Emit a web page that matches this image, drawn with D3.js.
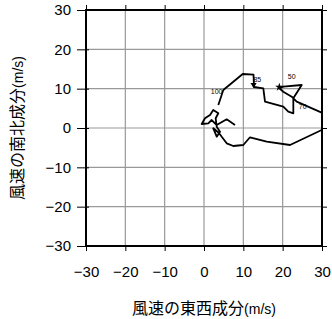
<!DOCTYPE html>
<html>
<head>
<meta charset="utf-8">
<script src="https://cdn.jsdelivr.net/npm/d3@7"></script>
<style>
  body { margin: 0; background: #fff; }
  text { font-family: "Liberation Sans", Arial, sans-serif; }
  .cjk { font-family: "Noto Sans CJK JP", sans-serif; }
</style>
</head>
<body>
<svg id="chart" width="332" height="319"></svg>
<script>
// ホドグラフ (u: 東西成分, v: 南北成分) m/s
const uVals = [3.64, 4.91, 9.84, 12.59, 12.71, 15.08, 15.51, 20.16, 21.43, 22.71, 22.71, 24.84,
  20.16, 19.15, 20.16, 22.30, 23.57, 29.93, 33.3, 33.3, 29.93, 21.87, 15.94, 11.70, 9.99, 7.45,
  5.77, 4.50, 3.81, 2.36, 3.23, 4.07, 3.23, 2.97, 3.64, 2.36, 1.53, 0.25, -0.58, 1.09, 1.96,
  3.23, 5.77, 7.88];
const vVals = [5.85, 9.66, 13.73, 13.55, 10.42, 10.09, 6.69, 5.42, 4.14, 3.74, 7.55, 10.93,
  10.50, 10.09, 9.23, 7.96, 6.69, 3.89, 2.5, 0.5, -0.51, -4.32, -3.48, -2.36, -4.32, -4.58,
  -3.89, -2.21, -1.27, -0.08, -2.21, -0.94, 0.33, 2.47, 3.74, 4.58, 3.31, 2.47, 1.02, 1.19,
  2.03, 0.76, 2.21, 0.76];

// 高度ラベル
const labelText = ["100", "85", "50", "70"];
const labelU = [3.2, 13.55, 22.3, 25.1];
const labelV = [9.2, 12.2, 12.8, 5.3];

const tickVals = [-30, -20, -10, 0, 10, 20, 30];
const tickLabels = ["\u221230", "\u221220", "\u221210", "0", "10", "20", "30"];

const svg = d3.select("#chart");
const pLeft = 86, pRight = 322, pTop = 10, pBottom = 246;

const x = d3.scaleLinear().domain([-30, 30]).range([pLeft, pRight]);
const y = d3.scaleLinear().domain([-30, 30]).range([pBottom, pTop]);

// グリッド
const grid = svg.append("g");
grid.selectAll(".gx").data(tickVals).join("line")
  .attr("x1", d => x(d)).attr("x2", d => x(d))
  .attr("y1", pTop).attr("y2", pBottom)
  .attr("stroke", "#999").attr("stroke-width", 1.2);
grid.selectAll(".gy").data(tickVals).join("line")
  .attr("y1", d => y(d)).attr("y2", d => y(d))
  .attr("x1", pLeft).attr("x2", pRight)
  .attr("stroke", "#999").attr("stroke-width", 1.2);

// 軸 (外向き目盛)
const fmt = d => tickLabels[tickVals.indexOf(d)];
const axB = svg.append("g").attr("transform", `translate(0,${pBottom})`)
  .call(d3.axisBottom(x).tickValues(tickVals).tickSize(5).tickPadding(15).tickFormat(fmt));
const axL = svg.append("g").attr("transform", `translate(${pLeft},0)`)
  .call(d3.axisLeft(y).tickValues(tickVals).tickSize(9).tickPadding(6).tickFormat(fmt));
const axT = svg.append("g").attr("transform", `translate(0,${pTop})`)
  .call(d3.axisTop(x).tickValues(tickVals).tickSize(5).tickFormat(""));
const axR = svg.append("g").attr("transform", `translate(${pRight},0)`)
  .call(d3.axisRight(y).tickValues(tickVals).tickSize(5).tickFormat(""));
[axB, axL, axT, axR].forEach(a => {
  a.select(".domain").remove();
  a.selectAll("line").attr("stroke", "#000").attr("stroke-width", 1);
  a.selectAll("text").attr("font-size", 15).attr("fill", "#000")
    .attr("font-family", "Liberation Sans, Arial, sans-serif");
});
axL.selectAll(".tick line").attr("x2", -9).attr("x1", 3);

// 枠
svg.append("rect").attr("x", pLeft).attr("y", pTop)
  .attr("width", pRight - pLeft).attr("height", pBottom - pTop)
  .attr("fill", "none").attr("stroke", "#000").attr("stroke-width", 2);

// クリップ
svg.append("defs").append("clipPath").attr("id", "clip")
  .append("rect").attr("x", pLeft).attr("y", pTop)
  .attr("width", pRight - pLeft).attr("height", pBottom - pTop);

const pts = uVals.map((u, i) => [u, vVals[i]]);
const line = d3.line().x(d => x(d[0])).y(d => y(d[1]));
const plot = svg.append("g").attr("clip-path", "url(#clip)");
plot.append("path").datum(pts).attr("d", line)
  .attr("fill", "none").attr("stroke", "#000").attr("stroke-width", 1.8)
  .attr("stroke-linejoin", "round");

// マーカー
plot.append("path").attr("d", d3.symbol(d3.symbolStar, 22)())
  .attr("transform", `translate(${x(19.15)},${y(10.4)})`).attr("fill", "#000");
plot.append("path").attr("d", d3.symbol(d3.symbolTriangle, 16)())
  .attr("transform", `translate(${x(12.6)},${y(11.0)}) rotate(180)`).attr("fill", "#000");

plot.selectAll(".lab").data(labelText).join("text")
  .attr("x", (d, i) => x(labelU[i])).attr("y", (d, i) => y(labelV[i]))
  .attr("text-anchor", "middle").attr("dominant-baseline", "middle")
  .attr("font-size", 7).attr("fill", "#000").text(d => d);

// 軸タイトル
const xt = svg.append("text").attr("x", (pLeft + pRight) / 2).attr("y", 314)
  .attr("text-anchor", "middle").attr("font-size", 16).attr("fill", "#000");
xt.append("tspan").attr("class", "cjk").text("風速の東西成分");
xt.append("tspan").attr("font-size", 14).text("(m/s)");

const yt = svg.append("text").attr("transform", `translate(23,${(pTop + pBottom) / 2}) rotate(-90)`)
  .attr("text-anchor", "middle").attr("font-size", 16).attr("fill", "#000");
yt.append("tspan").attr("class", "cjk").text("風速の南北成分");
yt.append("tspan").attr("font-size", 14).text("(m/s)");
</script>
</body>
</html>
